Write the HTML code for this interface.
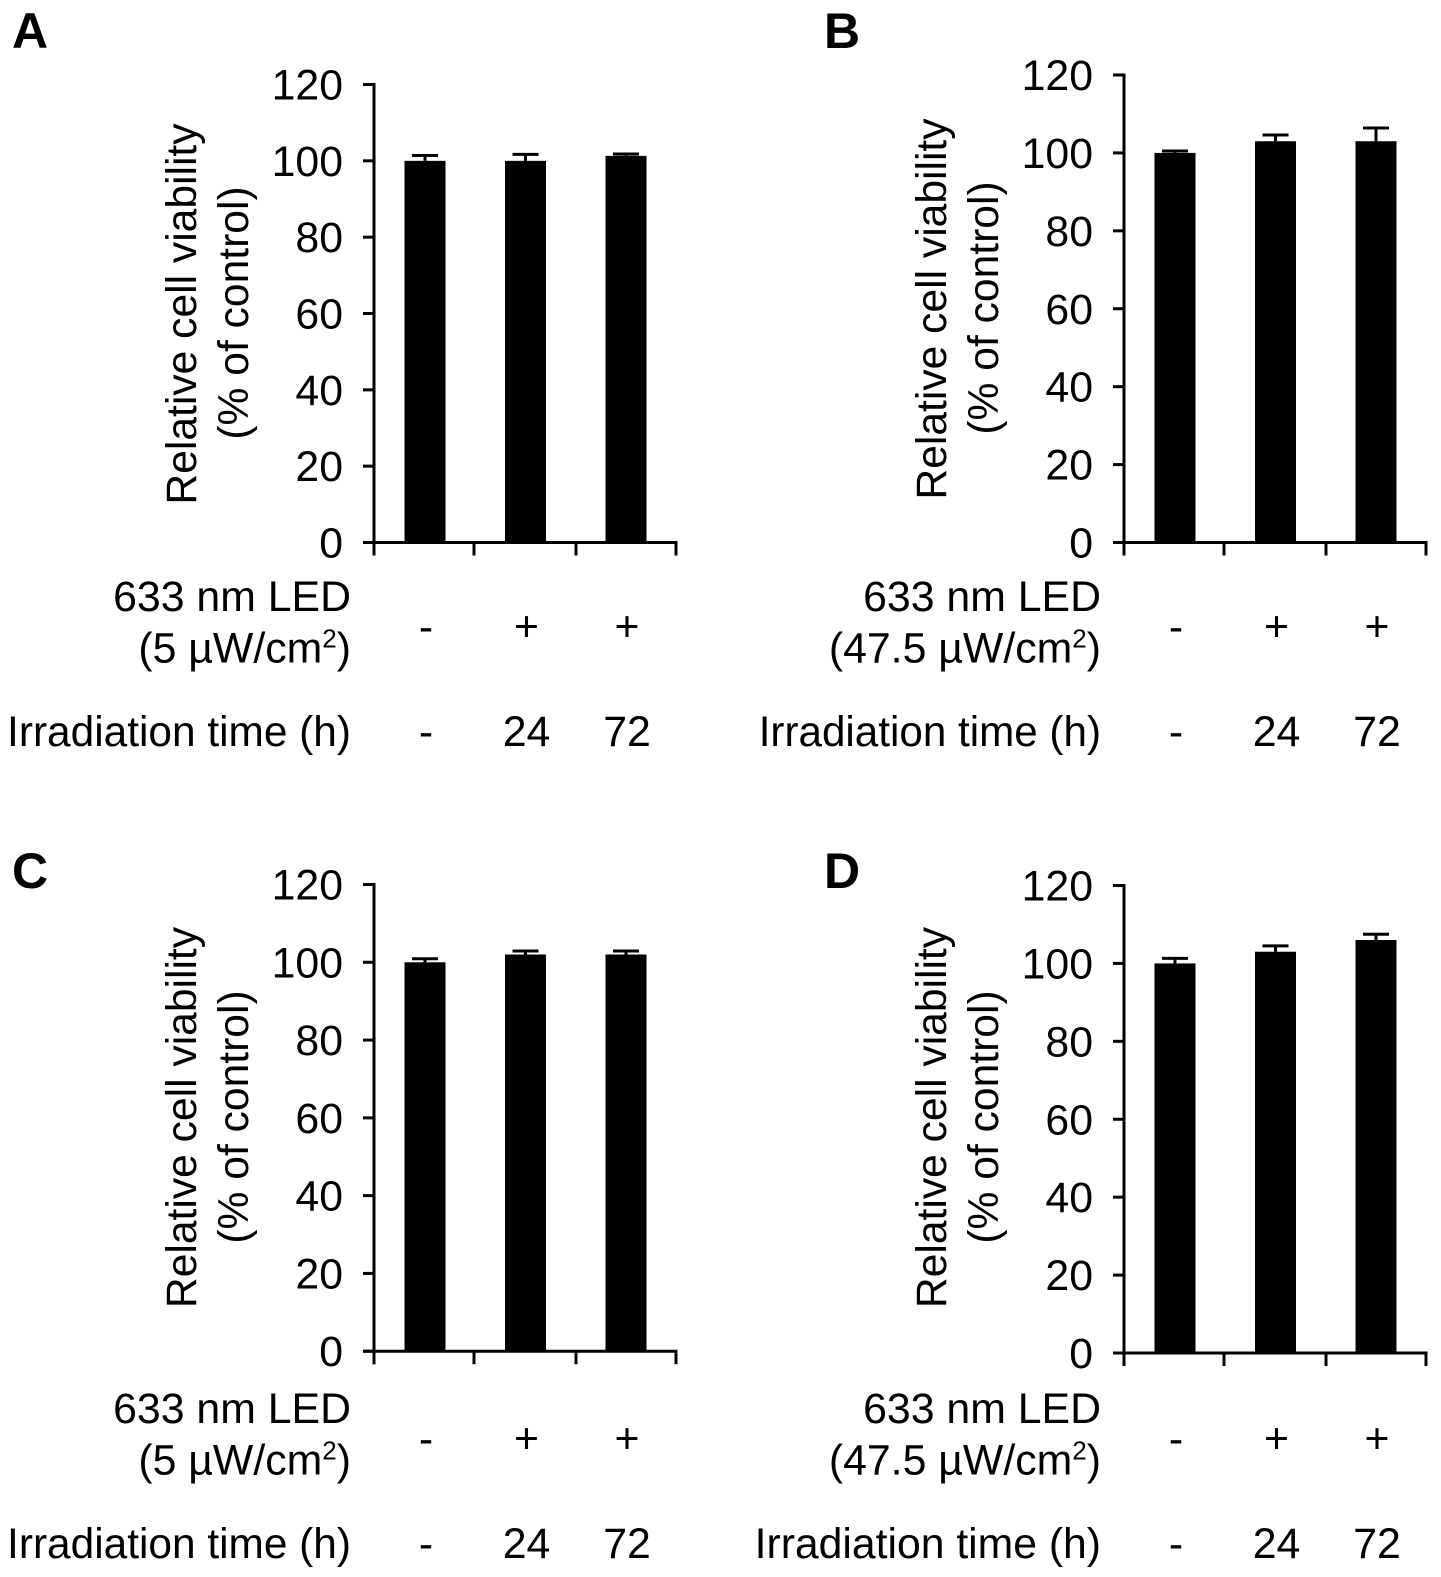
<!DOCTYPE html>
<html lang="en">
<head>
<meta charset="utf-8">
<title>Relative cell viability panels</title>
<style>
html,body{margin:0;padding:0;background:#fff;}
svg{display:block;}
text{font-family:"Liberation Sans",sans-serif;fill:#000;}
</style>
</head>
<body>
<svg id="figure" xmlns="http://www.w3.org/2000/svg" width="1441" height="1577" viewBox="0 0 1441 1577"></svg>
<script>
const panelNames = ['A', 'B', 'C', 'D'];
const valuesA = [100, 100, 101.3];
const valuesB = [100, 103, 103];
const valuesC = [100, 102, 102];
const valuesD = [100, 103, 106];
const errorsA = [1.4, 1.7, 0.5];
const errorsB = [0.5, 1.6, 3.4];
const errorsC = [0.9, 0.9, 0.9];
const errorsD = [1.3, 1.5, 1.5];
const yTicks = [0, 20, 40, 60, 80, 100, 120];
const ledRow = ['-', '+', '+'];
const timeRow = ['-', '24', '72'];
const doseA = '5';
const doseB = '47.5';
const doseC = '5';
const doseD = '47.5';

const NS = 'http://www.w3.org/2000/svg';
const svg = document.getElementById('figure');
const FONT = 42.8;

function add(parent, tag, attrs, text) {
  const el = document.createElementNS(NS, tag);
  for (const k in attrs) el.setAttribute(k, attrs[k]);
  if (text !== undefined) el.textContent = text;
  parent.appendChild(el);
  return el;
}

const layouts = {
  A: { values: valuesA, errors: errorsA, dose: doseA, axisX: 374, y0: 542.5, y120: 84.5, letterX: 12, letterY: 48, textRight: 351, rowTop: 611, timeFont: 42.4, t1: 196, t2: 248, c1: 314, c2: 313 },
  B: { values: valuesB, errors: errorsB, dose: doseB, axisX: 1124, y0: 542.5, y120: 75, letterX: 824, letterY: 48, textRight: 1101, rowTop: 611, timeFont: 42.2, t1: 946, t2: 998, c1: 309, c2: 308 },
  C: { values: valuesC, errors: errorsC, dose: doseC, axisX: 374, y0: 1351.2, y120: 884.5, letterX: 12, letterY: 888, textRight: 351, rowTop: 1423, timeFont: 42.4, t1: 196, t2: 248, c1: 1117.5, c2: 1117 },
  D: { values: valuesD, errors: errorsD, dose: doseD, axisX: 1124, y0: 1353, y120: 885.5, letterX: 824, letterY: 888, textRight: 1101, rowTop: 1423, timeFont: 42.7, t1: 946, t2: 998, c1: 1117.5, c2: 1117 }
};

function drawPanel(name) {
  const p = layouts[name];
  const g = add(svg, 'g', {});
  
  

  const yScale = v => p.y0 - (v / 120) * (p.y0 - p.y120);
  const xCenter = i => p.axisX + 51 + i * 100.5;
  const barW = 41;
  const axisEnd = p.axisX + 302;
  const SW = 3;

  const letter = add(g, 'text', { x: p.letterX, y: p.letterY, 'font-size': 50, 'font-weight': 'bold' }, name);
  
  

  p.values.forEach((v, i) => {
    const cx = xCenter(i);
    const topY = yScale(v);
    const errY = yScale(v + p.errors[i]);
    const bar = add(g, 'rect', { x: cx - barW / 2, y: topY, width: barW, height: p.y0 - topY, fill: '#000' });
    
    
    const stem = add(g, 'line', { x1: cx, x2: cx, y1: topY, y2: errY, stroke: '#000', 'stroke-width': SW });
    
    
    const cap = add(g, 'line', { x1: cx - 13, x2: cx + 13, y1: errY, y2: errY, stroke: '#000', 'stroke-width': SW });
    
    
  });

  const yAxis = add(g, 'line', { x1: p.axisX, x2: p.axisX, y1: p.y120 - SW / 2, y2: p.y0 + 13, stroke: '#000', 'stroke-width': SW });
  
  
  const xAxis = add(g, 'line', { x1: p.axisX - 11, x2: axisEnd + SW / 2, y1: p.y0, y2: p.y0, stroke: '#000', 'stroke-width': SW });
  
  

  yTicks.forEach(t => {
    const y = yScale(t);
    const tick = add(g, 'line', { x1: p.axisX - 11, x2: p.axisX, y1: y, y2: y, stroke: '#000', 'stroke-width': SW });
    
    
    const label = add(g, 'text', { x: p.axisX - 31, y: y + 15, 'font-size': FONT, 'text-anchor': 'end' }, String(t));
    
    
  });

  [0, 1, 2, 3].forEach(i => {
    const x = i === 0 ? p.axisX : i === 3 ? axisEnd : p.axisX + 100 + (i - 1) * 102;
    const tick = add(g, 'line', { x1: x, x2: x, y1: p.y0, y2: p.y0 + 13, stroke: '#000', 'stroke-width': SW });
    
    
  });

  const title1 = add(g, 'text', { transform: 'translate(' + p.t1 + ' ' + p.c1 + ') rotate(-90)', 'font-size': 42.6, 'text-anchor': 'middle' }, 'Relative cell viability');
  
  
  const title2 = add(g, 'text', { transform: 'translate(' + p.t2 + ' ' + p.c2 + ') rotate(-90)', 'font-size': 42.6, 'text-anchor': 'middle' }, '(% of control)');
  
  

  const led = add(g, 'text', { x: p.textRight, y: p.rowTop, 'font-size': FONT, 'text-anchor': 'end' }, '633 nm LED');
  
  

  const dose = add(g, 'text', { x: p.textRight, y: p.rowTop + 51.5, 'font-size': FONT, 'text-anchor': 'end' }, '(' + p.dose + ' \u00B5W/cm');
  
  
  add(dose, 'tspan', { 'font-size': 26, dy: -15 }, '2');
  add(dose, 'tspan', { dy: 15 }, ')');

  const time = add(g, 'text', { x: p.textRight, y: p.rowTop + 135, 'font-size': p.timeFont, 'text-anchor': 'end' }, 'Irradiation time (h)');
  
  

  ledRow.forEach((s, i) => {
    const t = add(g, 'text', { x: xCenter(i) + 1, y: p.rowTop + 30, 'font-size': FONT, 'text-anchor': 'middle' }, s);
    
    
  });
  timeRow.forEach((s, i) => {
    const t = add(g, 'text', { x: xCenter(i) + 1, y: p.rowTop + 135, 'font-size': FONT, 'text-anchor': 'middle' }, s);
    
    
  });
}

panelNames.forEach(drawPanel);
</script>
</body>
</html>
